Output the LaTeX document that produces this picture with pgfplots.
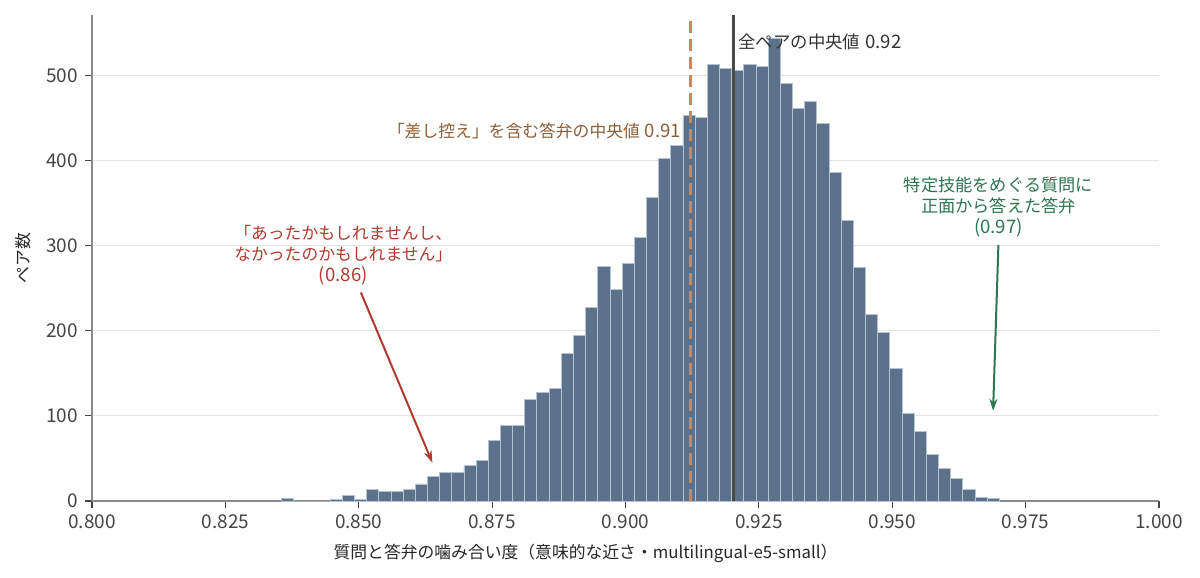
\documentclass[border=0pt]{standalone}
\usepackage{fontspec}
\setmainfont{Noto Sans CJK JP}
\usepackage{pgfplots}
\usepackage{pgfplotstable}
\pgfplotsset{compat=1.18}
\usetikzlibrary{arrows.meta}
\definecolor{barcol}{HTML}{5C728B}
\definecolor{edgecol}{HTML}{B4C3D3}
\definecolor{gridcol}{HTML}{E3E3E3}
\definecolor{spinecol}{HTML}{8A8A8A}
\definecolor{tickcol}{HTML}{444444}
\definecolor{medall}{HTML}{4A4A4A}
\definecolor{medsashi}{HTML}{C9875C}
\definecolor{browntext}{HTML}{8C5E38}
\definecolor{redc}{HTML}{B03A2E}
\definecolor{greenc}{HTML}{2E7550}

\pgfplotstableread{
x y
0.83551 3
0.83779 0
0.84007 0
0.84235 0
0.84463 2
0.84691 6
0.84919 2
0.85147 13
0.85376 11
0.85604 11
0.85832 14
0.86060 20
0.86288 29
0.86516 33
0.86744 34
0.86972 42
0.87200 48
0.87428 71
0.87656 89
0.87884 89
0.88112 119
0.88340 127
0.88569 132
0.88797 173
0.89025 195
0.89253 227
0.89481 275
0.89709 249
0.89937 279
0.90165 310
0.90393 357
0.90621 402
0.90849 418
0.91077 453
0.91305 451
0.91533 513
0.91762 508
0.91990 506
0.92218 513
0.92446 510
0.92674 544
0.92902 491
0.93130 461
0.93358 469
0.93586 443
0.93814 386
0.94042 330
0.94270 274
0.94498 219
0.94726 198
0.94955 156
0.95183 103
0.95411 82
0.95639 55
0.95867 38
0.96095 26
0.96323 14
0.96551 4
0.96779 3
0.97007 3
}\histdata

\newcommand{\nf}{\fontsize{9.3}{10}\selectfont}
\begin{document}
\begin{tikzpicture}
\path[use as bounding box] (-46pt,-38.5pt) rectangle (554pt,250.5pt);
\begin{axis}[
  at={(0pt,0pt)}, anchor=south west,
  scale only axis, width=533.5pt, height=243pt,
  xmin=0.8, xmax=1.0, ymin=0, ymax=571,
  clip=false,
  axis x line*=bottom, axis y line*=left,
  axis line style={spinecol, line width=0.6pt},
  tick align=outside,
  major tick length=3.5pt,
  tick style={tickcol, line width=0.6pt},
  xtick={0.8,0.825,...,1.0001},
  ytick={0,100,200,300,400,500},
  minor tick num=0,
  xticklabel style={/pgf/number format/.cd, fixed, fixed zerofill, precision=3},
  /pgf/number format/assume math mode=true,
  ticklabel style={font=\fontsize{9.5}{10}\selectfont, text=tickcol},
  ymajorgrids, grid style={gridcol, line width=0.5pt},
  xlabel={質問と答弁の噛み合い度（意味的な近さ・multilingual-e5-small）},
  ylabel={ペア数},
  label style={font=\fontsize{8.4}{10}\selectfont, text=black!85},
  xlabel style={yshift=-0.5pt, xshift=-20pt},
  ylabel style={yshift=1pt},
]
\addplot[ybar interval, fill=barcol, draw=edgecol, line width=0.45pt] table[x=x,y=y] {\histdata};
\addplot[medsashi, line width=1.5pt, dash pattern=on 6pt off 3pt] coordinates {(0.9122,0) (0.9122,571)};
\addplot[medall, line width=1.6pt] coordinates {(0.9202,0) (0.9202,571)};

\node[anchor=west, inner sep=0pt, font=\fontsize{8.7}{10}\selectfont, text=black!80] at (axis cs:0.9211,539) {全ペアの中央値\hspace{0.3em}{\nf 0.92}};
\node[anchor=east, inner sep=0pt, font=\fontsize{8.4}{10}\selectfont, text=browntext] at (axis cs:0.9105,435) {「差し控え」を含む答弁の中央値\hspace{0.3em}{\nf 0.91}};
\node[align=center, font=\fontsize{8.4}{10.5}\selectfont, text=redc] at (axis cs:0.8471,289) {「あったかもしれませんし、\\なかったのかもしれません」\\{\nf (0.86)}};
\node[align=center, font=\fontsize{8.6}{10.5}\selectfont, text=greenc] at (axis cs:0.9699,345) {特定技能をめぐる質問に\\正面から答えた答弁\\{\nf (0.97)}};
\draw[redc, line width=1pt, -{Stealth[length=6pt,width=4pt]}] (axis cs:0.8504,245) -- (axis cs:0.8638,45);
\draw[greenc, line width=1pt, -{Stealth[length=6pt,width=4pt]}] (axis cs:0.9699,301) -- (axis cs:0.9689,106);
\end{axis}
\end{tikzpicture}
\end{document}
